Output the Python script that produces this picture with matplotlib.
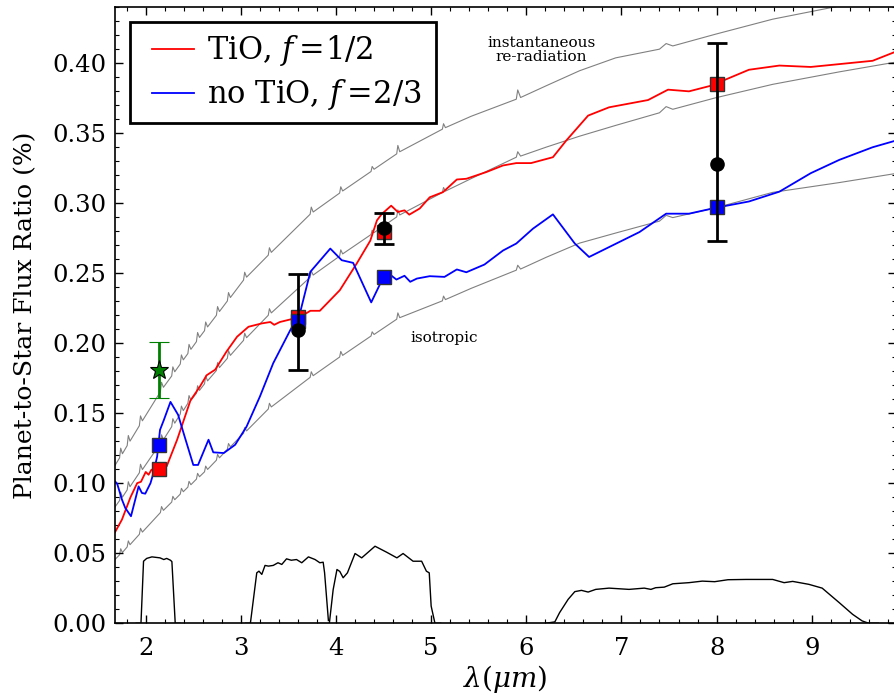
import matplotlib
matplotlib.use("Agg")
import matplotlib.pyplot as plt
from matplotlib.patches import Rectangle
from matplotlib.ticker import MultipleLocator

plt.rcParams["font.family"] = "DejaVu Serif"
plt.rcParams["mathtext.fontset"] = "dejavuserif"

# wavelength grid of the three blackbody-ish reference curves (with stellar H lines)
gray_wl = [1.677,
           1.725, 1.737, 1.755, 1.805, 1.817, 1.835, 1.933, 1.945, 1.965,
           2.154, 2.166, 2.186, 2.273, 2.285, 2.305, 2.363, 2.375, 2.395,
           2.443, 2.455, 2.475, 2.533, 2.545, 2.565, 2.618, 2.63, 2.65,
           2.743, 2.755, 2.775, 2.858, 2.87, 2.89, 3.028, 3.04, 3.06,
           3.288, 3.30, 3.32, 3.728, 3.74, 3.76, 4.038, 4.05, 4.07,
           4.368, 4.38, 4.40, 4.638, 4.65, 4.67, 5.118, 5.13, 5.15,
           5.42, 5.895, 5.91, 5.94, 6.21, 6.56, 6.94, 7.40, 7.47, 7.54,
           7.99, 8.59, 9.29, 9.886]

gray_top = [0.1127,
            0.1180, 0.1250, 0.1210, 0.1268, 0.1340, 0.1300, 0.1410, 0.1480, 0.1445,
            0.1652, 0.1720, 0.1684, 0.1765, 0.1830, 0.1795, 0.1850, 0.1915, 0.1880,
            0.1925, 0.1990, 0.1955, 0.2010, 0.2075, 0.2040, 0.2088, 0.2150, 0.2115,
            0.2198, 0.2260, 0.2225, 0.2300, 0.2360, 0.2325, 0.2449, 0.2505, 0.2470,
            0.2627, 0.2680, 0.2647, 0.2919, 0.2970, 0.2935, 0.3070, 0.3115, 0.3085,
            0.3224, 0.3260, 0.3240, 0.3350, 0.3410, 0.3365, 0.3526, 0.3565, 0.3537,
            0.3618, 0.3740, 0.3806, 0.3752, 0.3836, 0.3943, 0.4035, 0.4097, 0.4137, 0.4120,
            0.4204, 0.4311, 0.4405, 0.4480]

gray_mid = [0.0830,
            0.0876, 0.0935, 0.0900, 0.0952, 0.1010, 0.0975, 0.1074, 0.1135, 0.1097,
            0.1284, 0.1345, 0.1310, 0.1403, 0.1460, 0.1428, 0.1493, 0.1550, 0.1518,
            0.1570, 0.1625, 0.1592, 0.1642, 0.1695, 0.1662, 0.1709, 0.1765, 0.1730,
            0.1804, 0.1860, 0.1825, 0.1891, 0.1945, 0.1912, 0.2019, 0.2070, 0.2038,
            0.2198, 0.2245, 0.2215, 0.2469, 0.2515, 0.2485, 0.2620, 0.2665, 0.2636,
            0.2774, 0.2805, 0.2788, 0.2900, 0.2950, 0.2914, 0.3074, 0.3110, 0.3084,
            0.3173, 0.3326, 0.3365, 0.3334, 0.3398, 0.3476, 0.3553, 0.3643, 0.3687, 0.3668,
            0.3750, 0.3846, 0.3935, 0.4005]

gray_bot = [0.0455,
            0.0489, 0.0532, 0.0505, 0.0545, 0.0588, 0.0561, 0.0635, 0.0678, 0.0651,
            0.0790, 0.0833, 0.0806, 0.0865, 0.0906, 0.0882, 0.0922, 0.0963, 0.0939,
            0.0972, 0.1013, 0.0989, 0.1029, 0.1070, 0.1046, 0.1081, 0.1122, 0.1098,
            0.1164, 0.1205, 0.1181, 0.1242, 0.1283, 0.1259, 0.1356, 0.1397, 0.1373,
            0.1529, 0.1570, 0.1544, 0.1755, 0.1795, 0.1767, 0.1900, 0.1940, 0.1912,
            0.2050, 0.2080, 0.2061, 0.2170, 0.2215, 0.2181, 0.2301, 0.2335, 0.2310,
            0.2390, 0.2520, 0.2555, 0.2528, 0.2612, 0.2713, 0.2785, 0.2870, 0.2911, 0.2895,
            0.2965, 0.3075, 0.3145, 0.3210]

# model with TiO, f=1/2
tio_wl = [1.677, 1.75, 1.84, 1.91, 1.95, 2.00, 2.03, 2.06, 2.13, 2.22, 2.33, 2.47,
          2.57, 2.64, 2.73, 2.85, 2.96, 3.08, 3.22, 3.31, 3.35, 3.41, 3.62, 3.73,
          3.83, 4.04, 4.22, 4.36, 4.43, 4.48, 4.58, 4.65, 4.72, 4.77, 4.88, 4.985,
          5.125, 5.27, 5.37, 5.58, 5.755, 5.895, 6.05, 6.28, 6.42, 6.65, 6.87, 7.28,
          7.49, 7.71, 7.94, 8.34, 8.66, 8.99, 9.64, 9.886]
tio_flux = [0.065, 0.074, 0.090, 0.100, 0.101, 0.108, 0.106, 0.1096, 0.110, 0.112,
            0.131, 0.159, 0.169, 0.177, 0.181, 0.194, 0.2045, 0.2116, 0.214, 0.215,
            0.213, 0.215, 0.2185, 0.223, 0.223, 0.2377, 0.257, 0.273, 0.2875, 0.292,
            0.298, 0.2935, 0.2947, 0.2916, 0.296, 0.304, 0.3077, 0.3167, 0.3172,
            0.322, 0.3267, 0.3284, 0.3284, 0.3326, 0.3445, 0.3623, 0.3682, 0.3734,
            0.3808, 0.3796, 0.3836, 0.395, 0.398, 0.397, 0.4014, 0.408]

# model without TiO, f=2/3
notio_wl = [1.677, 1.70, 1.75, 1.785, 1.845, 1.89, 1.925, 1.96, 1.995, 2.05, 2.08,
            2.12, 2.15, 2.19, 2.26, 2.34, 2.41, 2.50, 2.55, 2.66, 2.71, 2.82, 2.94,
            3.06, 3.20, 3.34, 3.52, 3.62, 3.73, 3.94, 4.06, 4.18, 4.37, 4.48, 4.565,
            4.635, 4.72, 4.78, 4.85, 4.985, 5.14, 5.27, 5.37, 5.56, 5.755, 5.895,
            6.07, 6.28, 6.51, 6.66, 6.91, 7.19, 7.47, 7.71, 7.99, 8.34, 8.66, 8.99,
            9.29, 9.64, 9.886]
notio_flux = [0.1013, 0.0996, 0.0883, 0.0823, 0.0764, 0.0883, 0.0977, 0.093, 0.0925,
              0.100, 0.107, 0.119, 0.138, 0.145, 0.158, 0.1488, 0.133, 0.113, 0.113,
              0.131, 0.122, 0.1215, 0.1274, 0.1404, 0.1618, 0.1856, 0.2093, 0.221,
              0.2508, 0.2674, 0.2591, 0.2572, 0.229, 0.2445, 0.249, 0.2453, 0.248,
              0.2437, 0.246, 0.2477, 0.2472, 0.2525, 0.2505, 0.256, 0.266, 0.271,
              0.2816, 0.2918, 0.271, 0.2614, 0.2698, 0.2792, 0.2923, 0.2923, 0.2965,
              0.301, 0.308, 0.3212, 0.3307, 0.3397, 0.3445]

# band-integrated model points (Ks, 3.6, 4.5, 8.0)
band_wl = [2.14, 3.6, 4.5, 8.0]
tio_band = [0.110, 0.2185, 0.279, 0.385]
notio_band = [0.127, 0.216, 0.247, 0.297]

# Spitzer measurements
irac_wl = [3.6, 4.5, 8.0]
irac_flux = [0.209, 0.282, 0.328]
irac_err_lo = [0.028, 0.011, 0.055]
irac_err_hi = [0.040, 0.011, 0.086]

# ground-based Ks point
ks_wl = [2.14]
ks_flux = [0.181]
ks_err = [0.020]

# filter transmission profiles (scaled)
ks_filt_wl = [1.90, 1.95, 1.977, 2.01, 2.065, 2.15, 2.19, 2.22, 2.26, 2.275, 2.31, 2.36]
ks_filt_tr = [0.0, 0.0, 0.0443, 0.0463, 0.0474, 0.0467, 0.0455, 0.0463, 0.045, 0.044, 0.0, 0.0]

ch1_wl = [3.05, 3.10, 3.167, 3.19, 3.22, 3.254, 3.29, 3.34, 3.39, 3.43, 3.48, 3.53,
          3.585, 3.64, 3.71, 3.78, 3.83, 3.865, 3.88, 3.92]
ch1_tr = [0.0, 0.0, 0.036, 0.0372, 0.0349, 0.0413, 0.0408, 0.0413, 0.0432, 0.042,
          0.046, 0.045, 0.0455, 0.0432, 0.0474, 0.0455, 0.0432, 0.0436, 0.036, 0.002]

ch2_wl = [3.93, 3.97, 4.01, 4.04, 4.075, 4.12, 4.20, 4.27, 4.41, 4.53, 4.64, 4.705,
          4.81, 4.90, 4.95, 4.98, 5.00, 5.04, 5.10]
ch2_tr = [0.0, 0.024, 0.0384, 0.037, 0.0325, 0.036, 0.0498, 0.0467, 0.055, 0.0508,
          0.0467, 0.0498, 0.0443, 0.0443, 0.0372, 0.036, 0.0123, 0.0, 0.0]

ch4_wl = [6.20, 6.30, 6.35, 6.44, 6.51, 6.58, 6.65, 6.73, 6.87, 7.08, 7.24, 7.31,
          7.36, 7.45, 7.54, 7.71, 7.85, 7.98, 8.12, 8.31, 8.59, 8.71, 8.80, 8.97,
          9.11, 9.29, 9.43, 9.53, 9.60, 9.70]
ch4_tr = [0.0, 0.001, 0.0076, 0.0171, 0.0226, 0.0235, 0.0223, 0.0242, 0.0251, 0.0242,
          0.0251, 0.0242, 0.0254, 0.0258, 0.0282, 0.029, 0.0301, 0.0297, 0.0311,
          0.0313, 0.0313, 0.029, 0.0299, 0.0278, 0.0251, 0.0147, 0.0064, 0.0017, 0.0, 0.0]

fig = plt.figure(figsize=(8.94, 7.0), dpi=100)
ax = fig.add_axes([115 / 894, 1 - 623.3 / 700, (896 - 115) / 894, (623.3 - 6.7) / 700])

for g in (gray_top, gray_mid, gray_bot):
    ax.plot(gray_wl, g, color="gray", lw=0.8, zorder=1)

for fw, ft in ((ks_filt_wl, ks_filt_tr), (ch1_wl, ch1_tr), (ch2_wl, ch2_tr), (ch4_wl, ch4_tr)):
    ax.plot(fw, ft, color="k", lw=1.0, zorder=1)

ax.plot(tio_wl, tio_flux, color="r", lw=1.3, label=r"TiO, $f=\!1/2$", zorder=2)
ax.plot(notio_wl, notio_flux, color="b", lw=1.3, label=r"no TiO, $f=\!2/3$", zorder=2)

ax.plot(band_wl, tio_band, "s", color="r", mec="0.2", mew=1.0, ms=9.5, zorder=3)
ax.plot(band_wl, notio_band, "s", color="b", mec="0.2", mew=1.0, ms=9.5, zorder=4)

ax.errorbar(irac_wl, irac_flux, yerr=[irac_err_lo, irac_err_hi], fmt="o", color="k",
            ms=9.5, elinewidth=2, capsize=7, capthick=2, zorder=5)
ax.errorbar(ks_wl, ks_flux, yerr=ks_err, fmt="*", color="g", mfc="g", mec="k",
            mew=0.8, ms=14, elinewidth=2, capsize=7, capthick=1.5, zorder=5)

ax.text(6.16, 0.409, "instantaneous\nre-radiation", ha="center", va="center",
        fontsize=11, linespacing=1.05)
ax.text(5.14, 0.2036, "isotropic", ha="center", va="center", fontsize=11)

ax.set_xlim(1.677, 9.886)
ax.set_ylim(0, 0.44)
ax.xaxis.set_major_locator(MultipleLocator(1))
ax.xaxis.set_minor_locator(MultipleLocator(0.2))
ax.yaxis.set_major_locator(MultipleLocator(0.05))
ax.yaxis.set_minor_locator(MultipleLocator(0.01))
ax.tick_params(which="both", direction="in", top=True, right=True)
ax.tick_params(which="major", length=5.5, width=1.0, labelsize=17.5)
ax.tick_params(axis="x", which="major", pad=10)
ax.tick_params(axis="y", which="major", pad=6)
ax.tick_params(which="minor", length=3, width=0.8)
for s in ax.spines.values():
    s.set_linewidth(1.2)

ax.set_xlabel(r"$\lambda(\mu m)$", fontsize=20, labelpad=2)
ax.set_ylabel("Planet-to-Star Flux Ratio (%)", fontsize=18, labelpad=11)

# legend without its own frame; square frame drawn separately so padding can differ
leg = ax.legend(loc="upper left", bbox_to_anchor=(0.047, 0.957), borderaxespad=0,
                fontsize=22, handlelength=1.4, handletextpad=0.4, borderpad=0,
                labelspacing=0.3, frameon=False)
ax.add_patch(Rectangle((0.0192, 0.8114), 0.3918, 0.1638, transform=ax.transAxes,
                       fill=True, facecolor="white", edgecolor="k", lw=2.0, zorder=6))
leg.set_zorder(7)

fig.savefig("out.png", dpi=100)
